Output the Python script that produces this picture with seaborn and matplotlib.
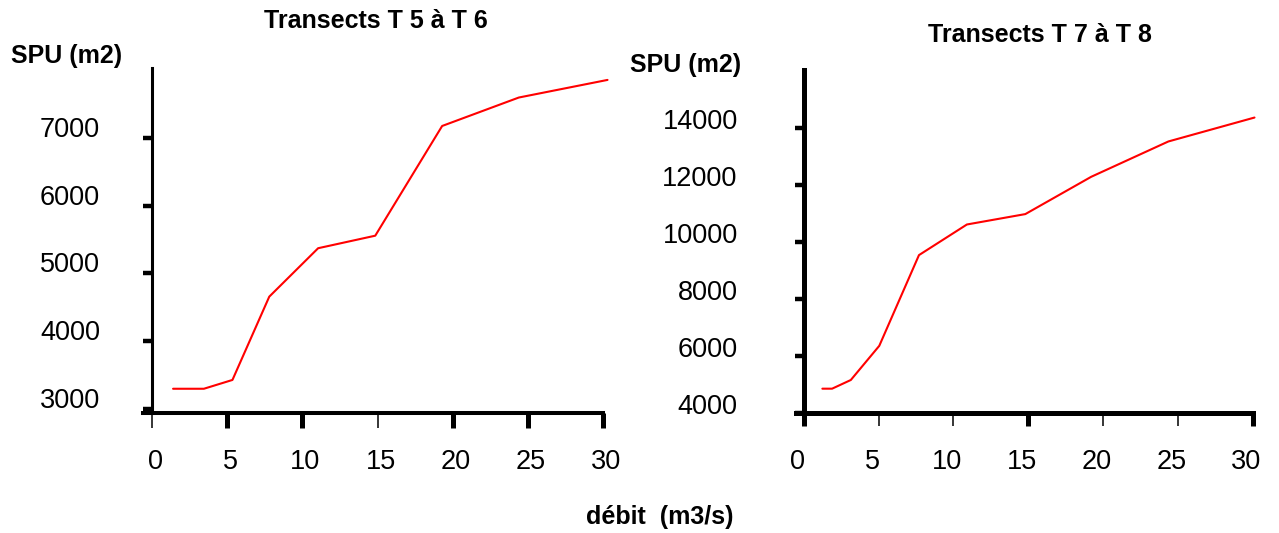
import matplotlib
matplotlib.use("Agg")
import matplotlib.pyplot as plt
import matplotlib.transforms as mtransforms
import pandas as pd
import seaborn as sns

# Débit (m3/s) et SPU (m2) pour chaque groupe de transects
debit_t5_t6 = [1.4, 3.45, 5.35, 7.8, 11.05, 14.85, 19.3, 24.4, 30.3]
spu_t5_t6 = [3295, 3295, 3425, 4655, 5370, 5555, 7175, 7595, 7855]

debit_t7_t8 = [1.25, 1.9, 3.15, 5.05, 7.7, 10.9, 14.8, 19.2, 24.35, 30.1]
spu_t7_t8 = [4840, 4840, 5145, 6345, 9530, 10605, 10970, 12280, 13520, 14360]

x_ticks = [0, 5, 10, 15, 20, 25, 30]
y_ticks_t5_t6 = [3000, 4000, 5000, 6000, 7000]
y_ticks_t7_t8 = [4000, 6000, 8000, 10000, 12000, 14000]

titles = ["Transects T 5 à T 6", "Transects T 7 à T 8"]
y_label = "SPU (m2)"
x_label = "débit  (m3/s)"

sns.set_style("white")
plt.rcParams["font.family"] = ["Liberation Sans", "DejaVu Sans"]
plt.rcParams["text.color"] = "black"
plt.rcParams["xtick.color"] = "black"
plt.rcParams["ytick.color"] = "black"
plt.rcParams["xtick.labelcolor"] = "black"
plt.rcParams["ytick.labelcolor"] = "black"

W, H = 1279, 533
fig = plt.figure(figsize=(W / 100, H / 100), dpi=100)


def axes_px(left, right, top, bottom):
    """Add an axes given its edges in pixels measured from the top-left."""
    return fig.add_axes([left / W, 1 - bottom / H, (right - left) / W, (bottom - top) / H])


def shift_labels(labels, dx_px, dy_px):
    off = mtransforms.ScaledTranslation(dx_px / 100, dy_px / 100, fig.dpi_scale_trans)
    for lbl in labels:
        lbl.set_transform(lbl.get_transform() + off)


def draw_panel(ax, debit, spu, xlim, ylim, yticks, spine_w, xtick_len, xpad, ypad,
               thin_xticks, xlab_dx, ylab_dy, yspine_w):
    df = pd.DataFrame({"debit": debit, "spu": spu})
    sns.lineplot(data=df, x="debit", y="spu", ax=ax, color="#ff0000",
                 linewidth=1.5, sort=False)
    for ln in ax.lines:
        ln.set_clip_on(False)
    ax.set_xlim(*xlim)
    ax.set_ylim(*ylim)
    ax.set_xlabel("")
    ax.set_ylabel("")
    for side in ("top", "right"):
        ax.spines[side].set_visible(False)
    ax.spines["left"].set_position(("data", 0))
    ax.spines["left"].set_linewidth(yspine_w)
    ax.spines["bottom"].set_linewidth(spine_w)
    ax.spines["left"].set_color("black")
    ax.spines["bottom"].set_color("black")
    ax.set_xticks(x_ticks)
    ax.set_xticklabels([str(v) for v in x_ticks])
    ax.set_yticks(yticks)
    ax.set_yticklabels([str(v) for v in yticks])
    ax.tick_params(axis="x", direction="out", length=xtick_len, width=3.6,
                   color="black", labelcolor="black", labelsize=19.5, pad=xpad,
                   bottom=True)
    ax.tick_params(axis="y", direction="out", length=6.5, width=3.2,
                   color="black", labelcolor="black", labelsize=19.5, pad=ypad,
                   left=True)
    ax.grid(False)
    for i, tick in enumerate(ax.xaxis.get_major_ticks()):
        if i in thin_xticks:
            tick.tick1line.set_markeredgewidth(1.1)
    shift_labels(ax.get_xticklabels(), xlab_dx, 0)
    shift_labels(ax.get_yticklabels(), 0, ylab_dy)


ax1 = axes_px(143, 603, 68, 413)
draw_panel(ax1, debit_t5_t6, spu_t5_t6, (-0.6, 30), (2937, 8031), y_ticks_t5_t6,
           spine_w=2.9, xtick_len=10.8, xpad=14.8, ypad=31,
           thin_xticks={0, 3}, xlab_dx=3, ylab_dy=11, yspine_w=2.2)

ax2 = axes_px(795.7, 1253, 69.7, 412.6)
draw_panel(ax2, debit_t7_t8, spu_t7_t8, (-0.53, 30), (4000, 16040), y_ticks_t7_t8,
           spine_w=3.6, xtick_len=9.4, xpad=16.7, ypad=41,
           thin_xticks={1, 2, 4, 5}, xlab_dx=-6.5, ylab_dy=8.5, yspine_w=3.6)

bold = dict(fontweight="bold", fontsize=18, ha="center", va="baseline", color="black")
fig.text(376 / W, 1 - 28.3 / H, titles[0], **bold)
fig.text(1040 / W, 1 - 41.5 / H, titles[1], **bold)
fig.text(67 / W, 1 - 63.3 / H, y_label, **bold)
fig.text(686 / W, 1 - 72 / H, y_label, **bold)
fig.text(659.5 / W, 1 - 524 / H, x_label, **bold)

fig.savefig("out.png", dpi=100, facecolor="white")
